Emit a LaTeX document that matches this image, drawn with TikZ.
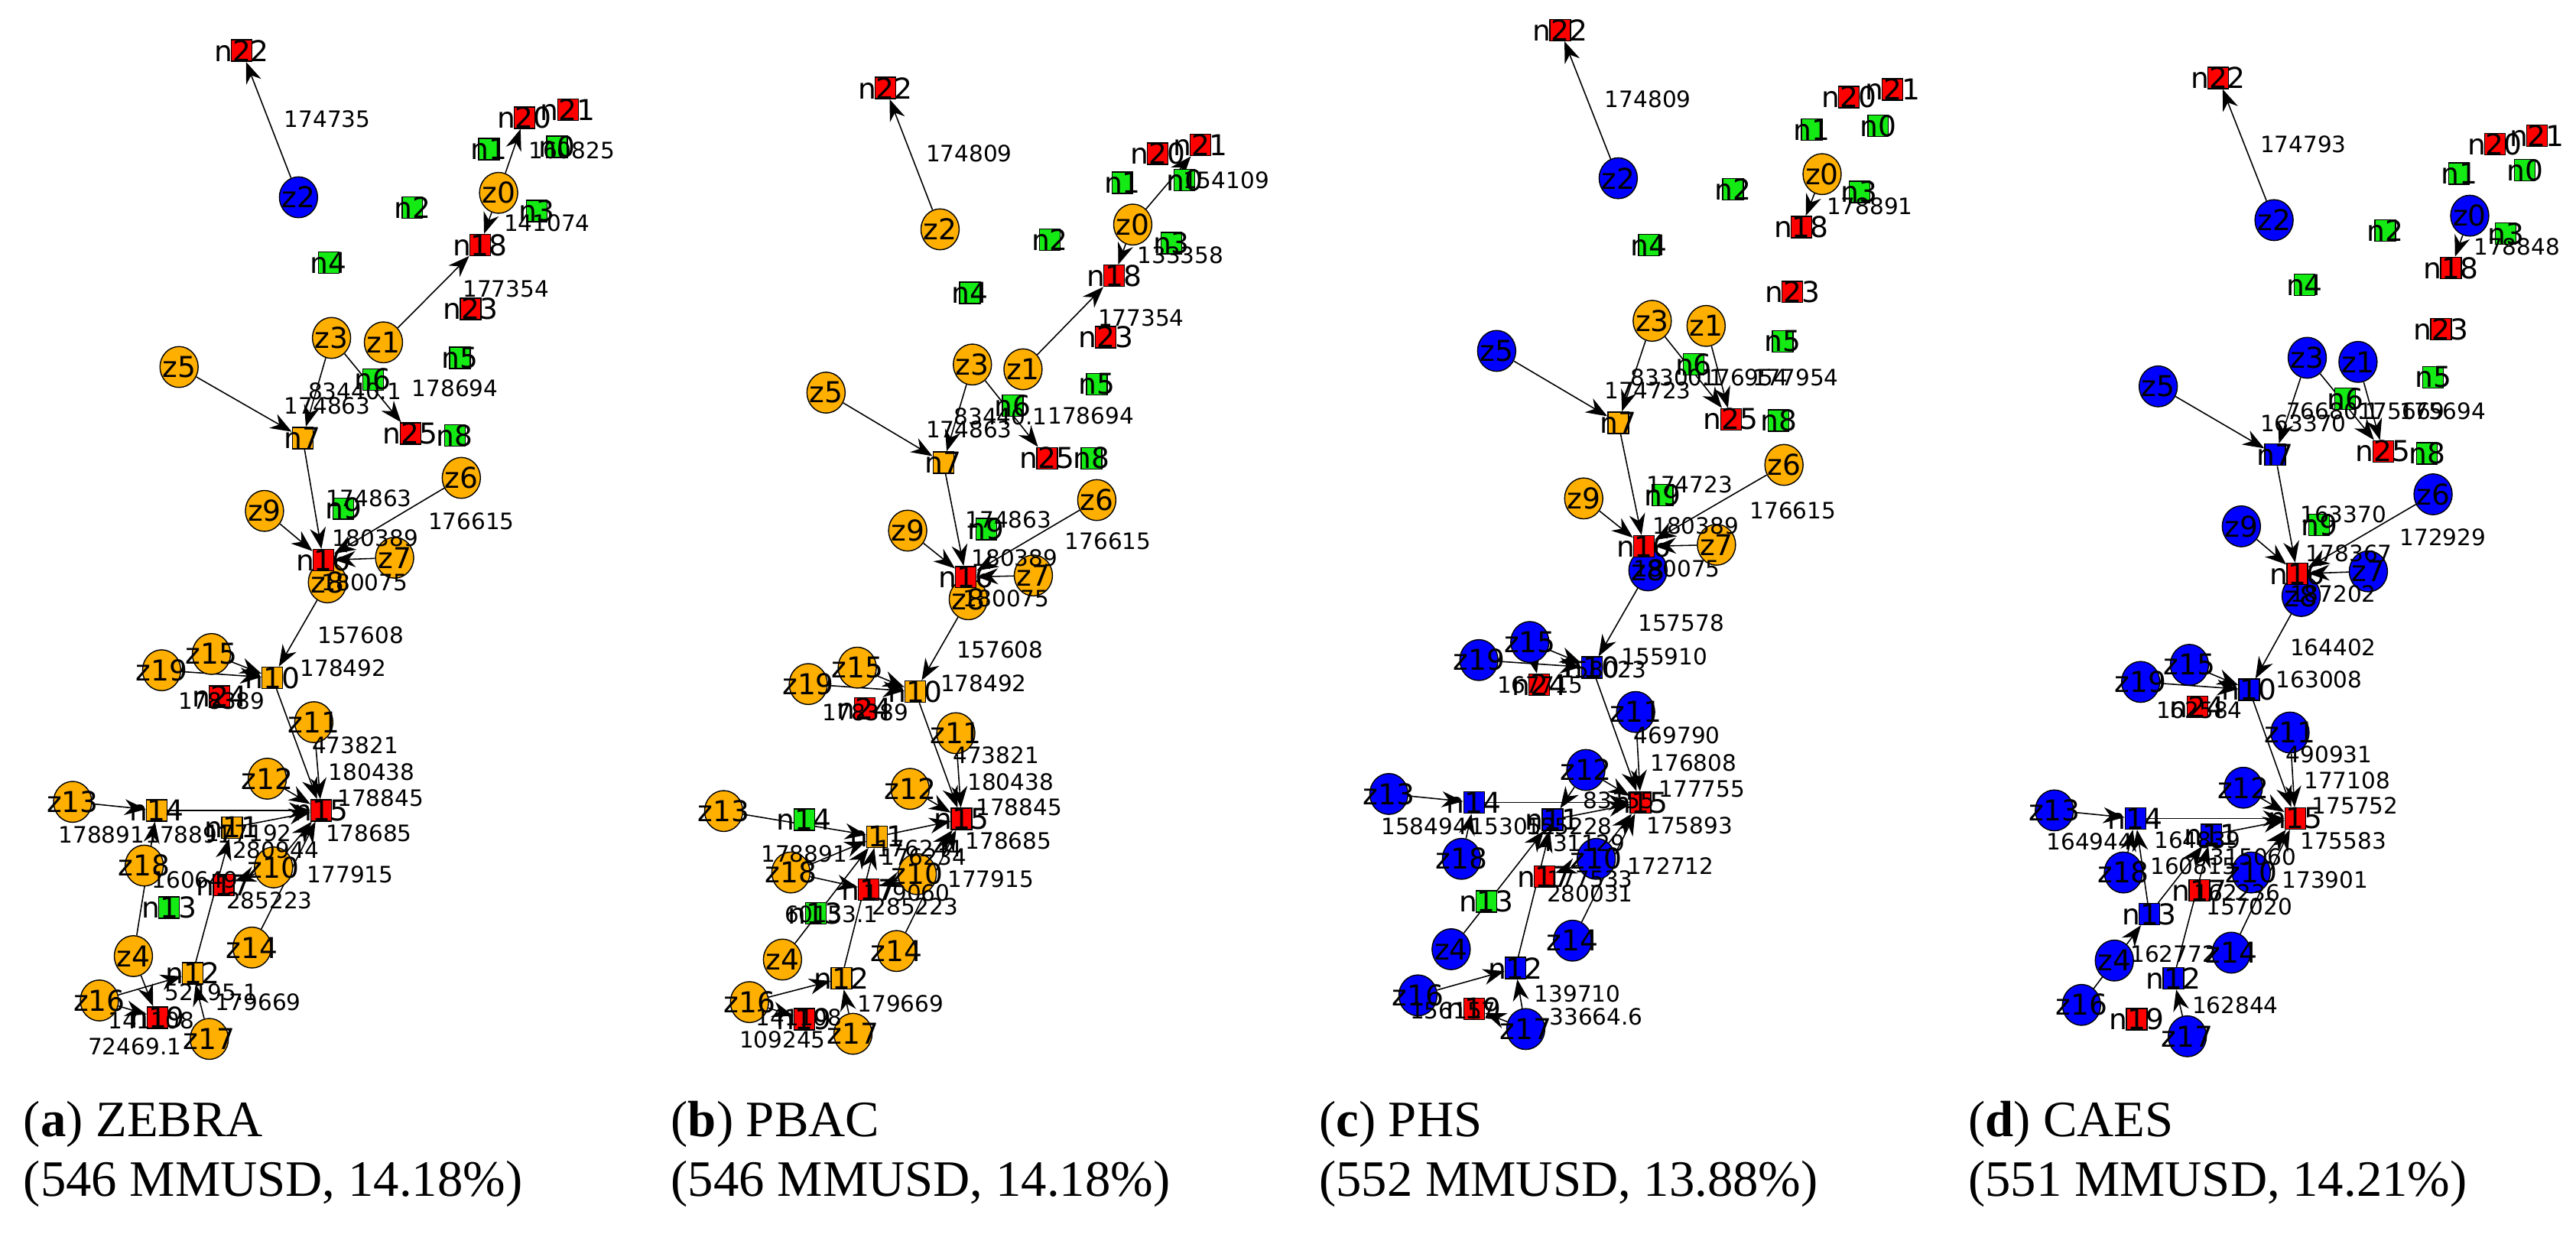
\documentclass[tikz,border=0pt]{standalone}
\usepackage{fontspec}
\newfontfamily\lblfont{DejaVu Sans}
\newfontfamily\capfont{Liberation Serif}
\usetikzlibrary{shapes.geometric,arrows.meta}
\pgfdeclarelayer{bg}
\pgfsetlayers{bg,main}
\definecolor{zorange}{RGB}{255,175,0}
\definecolor{zblue}{RGB}{0,0,255}
\definecolor{ngreen}{RGB}{20,235,20}
\definecolor{nred}{RGB}{255,0,0}

\begin{document}
\begin{tikzpicture}[x=0.0215cm, y=-0.0215cm,
  nlab/.style={font=\lblfont\fontsize{10.7}{12}\selectfont, inner sep=0pt},
  elab/.style={font=\lblfont\fontsize{8.4}{10}\selectfont, inner sep=0pt},
  captxt/.style={font=\capfont\fontsize{19}{22}\selectfont, inner sep=0pt, anchor=base west},
  cio/.style={ellipse, draw, line width=0.4pt, fill=zorange, minimum width=0.5cm, minimum height=0.535cm, inner sep=0pt, label={[nlab]center:#1}},
  cib/.style={cio=#1, fill=zblue},
  sq/.style={rectangle, draw, line width=0.4pt, minimum width=0.27cm, minimum height=0.28cm, inner sep=0pt, label={[nlab]center:#1}},
  sqg/.style={sq=#1, fill=ngreen},
  sqr/.style={sq=#1, fill=nred},
  sqo/.style={sq=#1, fill=zorange},
  sqb/.style={sq=#1, fill=zblue},
  link/.style={-{Stealth[length=2.8mm,width=2.1mm]}, line width=0.45pt}]
\useasboundingbox (0,0) rectangle (1568,757);

% panel (a)
\node[cio=z0] (az0) at (303.5,117.4) {};
\node[cio=z1] (az1) at (233.4,208.4) {};
\node[cib=z2] (az2) at (181.7,120.1) {};
\node[cio=z3] (az3) at (201.8,205.7) {};
\node[cio=z4] (az4) at (81.2,582) {};
\node[cio=z5] (az5) at (109,223.4) {};
\node[cio=z6] (az6) at (280.8,290.9) {};
\node[cio=z7] (az7) at (240.2,339.5) {};
\node[cio=z8] (az8) at (199.3,354.5) {};
\node[cio=z9] (az9) at (161,311) {};
\node[cio=z10] (az10) at (166.5,528) {};
\node[cio=z11] (az11) at (191,439.6) {};
\node[cio=z12] (az12) at (162.7,474) {};
\node[cio=z13] (az13) at (44.2,488.1) {};
\node[cio=z14] (az14) at (153.4,576.8) {};
\node[cio=z15] (az15) at (128.7,398.1) {};
\node[cio=z16] (az16) at (60.5,609) {};
\node[cio=z17] (az17) at (127.4,632.4) {};
\node[cio=z18] (az18) at (87.8,526.9) {};
\node[cio=z19] (az19) at (98.4,408) {};
\node[sqg=n0] (an0) at (339,89.4) {};
\node[sqg=n1] (an1) at (297.7,90.8) {};
\node[sqg=n2] (an2) at (251,126.3) {};
\node[sqg=n3] (an3) at (326.7,128.4) {};
\node[sqg=n4] (an4) at (200,160) {};
\node[sqg=n5] (an5) at (280,217.8) {};
\node[sqg=n6] (an6) at (227,231) {};
\node[sqo=n7] (an7) at (184.2,266.6) {};
\node[sqg=n8] (an8) at (276.8,265) {};
\node[sqg=n9] (an9) at (209,309.6) {};
\node[sqo=n10] (an10) at (165.8,412.6) {};
\node[sqo=n11] (an11) at (141.3,503.7) {};
\node[sqo=n12] (an12) at (117.3,592.4) {};
\node[sqg=n13] (an13) at (102.9,552.5) {};
\node[sqo=n14] (an14) at (95.4,493.3) {};
\node[sqr=n15] (an15) at (195.5,493.3) {};
\node[sqr=n16] (an16) at (196.8,341) {};
\node[sqr=n17] (an17) at (136.2,538.8) {};
\node[sqr=n18] (an18) at (292.2,149.2) {};
\node[sqr=n19] (an19) at (95.9,619.4) {};
\node[sqr=n20] (an20) at (319.2,71.7) {};
\node[sqr=n21] (an21) at (345.7,66.9) {};
\node[sqr=n22] (an22) at (147.1,30.8) {};
\node[sqr=n23] (an23) at (286.4,188) {};
\node[sqr=n24] (an24) at (133.7,424) {};
\node[sqr=n25] (an25) at (249.8,263.9) {};
\begin{pgfonlayer}{bg}
\foreach \s/\t in {z2/n22, z0/n20, z0/n18, z1/n18, z3/n7, z3/n25, z5/n7, n7/n16, z9/n16, z6/n16, z7/n16, z8/n10, z15/n10, z19/n10, n10/n15, z11/n15, z12/n15, z13/n14, n14/n15, n11/n15, z10/n15, z14/n15, z10/n17, n12/n11, z4/n14, z4/n19, z16/n12, z16/n19, z17/n12}
  \draw[link] (a\s) -- (a\t);
\end{pgfonlayer}
\node[elab] (al1) at (199.3,72.3) {174735};
\node[elab] (al2) at (348,91.4) {160825};
\node[elab] (al3) at (333,136) {141074};
\node[elab] (al4) at (308,175.6) {177354};
\node[elab] (al5) at (216,238) {83440.1};
\node[elab] (al6) at (277,236.5) {178694};
\node[elab] (al7) at (199.3,246.9) {174863};
\node[elab] (al8) at (224.5,303.4) {174863};
\node[elab] (al9) at (286.9,317.3) {176615};
\node[elab] (al10) at (228.3,327.4) {180389};
\node[elab] (al11) at (222,354.5) {180075};
\node[elab] (al12) at (219.5,386.7) {157608};
\node[elab] (al13) at (208.9,406.8) {178492};
\node[elab] (al14) at (135,426.5) {178389};
\node[elab] (al15) at (216.2,453.6) {473821};
\node[elab] (al16) at (226.3,469.8) {180438};
\node[elab] (al17) at (231.6,485.8) {178845};
\node[elab] (al18) at (224.5,507.2) {178685};
\node[elab] (al19) at (61.8,508.2) {178891};
\node[elab] (al20) at (114.8,508.2) {178891};
\node[elab] (al21) at (151.4,507.2) {177192};
\node[elab] (al22) at (167.8,517.6) {280944};
\node[elab] (al23) at (213.2,532.1) {177915};
\node[elab] (al24) at (118.6,535.7) {160649};
\node[elab] (al25) at (164,548.3) {285223};
\node[elab] (al26) at (128.7,603.8) {52195.1};
\node[elab] (al27) at (157,610) {179669};
\node[elab] (al28) at (92,621) {141108};
\node[elab] (al29) at (82,637) {72469.1};
\node[captxt] (acap1) at (14,692) {(\textbf{a}) ZEBRA};
\node[captxt] (acap2) at (14,728) {(546 MMUSD, 14.18\%)};

% panel (b)
\node[cio=z0] (bz0) at (689.5,136.7) {};
\node[cio=z1] (bz1) at (622.7,224.8) {};
\node[cio=z2] (bz2) at (572.2,139.6) {};
\node[cio=z3] (bz3) at (591.9,221.9) {};
\node[cio=z4] (bz4) at (476.3,584.1) {};
\node[cio=z5] (bz5) at (502.8,239) {};
\node[cio=z6] (bz6) at (667.6,304.4) {};
\node[cio=z7] (bz7) at (629,350.3) {};
\node[cio=z8] (bz8) at (589.4,364.8) {};
\node[cio=z9] (bz9) at (552.5,323) {};
\node[cio=z10] (bz10) at (558.3,532.1) {};
\node[cio=z11] (bz11) at (581.8,446.3) {};
\node[cio=z12] (bz12) at (554,480.2) {};
\node[cio=z13] (bz13) at (440.5,493.7) {};
\node[cio=z14] (bz14) at (545.7,578.9) {};
\node[cio=z15] (bz15) at (521.8,406.4) {};
\node[cio=z16] (bz16) at (456.2,610) {};
\node[cio=z17] (bz17) at (519.2,629.3) {};
\node[cio=z18] (bz18) at (481.4,531.1) {};
\node[cio=z19] (bz19) at (492,416.4) {};
\node[sqg=n0] (bn0) at (721,109.7) {};
\node[sqg=n1] (bn1) at (683.2,111.2) {};
\node[sqg=n2] (bn2) at (639,145.9) {};
\node[sqg=n3] (bn3) at (713,148) {};
\node[sqg=n4] (bn4) at (590.4,178.3) {};
\node[sqg=n5] (bn5) at (667.6,233.8) {};
\node[sqg=n6] (bn6) at (616.4,246.9) {};
\node[sqo=n7] (bn7) at (574.2,281.6) {};
\node[sqg=n8] (bn8) at (664.3,278.9) {};
\node[sqg=n9] (bn9) at (600.3,322) {};
\node[sqo=n10] (bn10) at (557.1,421) {};
\node[sqo=n11] (bn11) at (533.9,509.3) {};
\node[sqo=n12] (bn12) at (512.2,595.5) {};
\node[sqg=n13] (bn13) at (496.5,556) {};
\node[sqg=n14] (bn14) at (489.5,498.9) {};
\node[sqr=n15] (bn15) at (585.3,498.5) {};
\node[sqr=n16] (bn16) at (587.9,351.3) {};
\node[sqr=n17] (bn17) at (528.8,541.5) {};
\node[sqr=n18] (bn18) at (678.2,167.9) {};
\node[sqr=n19] (bn19) at (489.5,620.4) {};
\node[sqr=n20] (bn20) at (704.7,93.5) {};
\node[sqr=n21] (bn21) at (730.7,88.3) {};
\node[sqr=n22] (bn22) at (538.9,53.6) {};
\node[sqr=n23] (bn23) at (673.1,205.3) {};
\node[sqr=n24] (bn24) at (526.3,431.3) {};
\node[sqr=n25] (bn25) at (637.3,278.9) {};
\begin{pgfonlayer}{bg}
\foreach \s/\t in {z2/n22, z0/n21, z0/n18, z1/n18, z3/n7, z3/n25, z5/n7, n7/n16, z9/n16, z6/n16, z7/n16, z8/n10, z15/n10, z19/n10, n10/n15, z11/n15, z12/n15, z13/n11, n11/n15, z10/n15, z14/n15, z10/n17, z18/n11, z18/n17, z4/n11, n12/n11, z16/n12, z16/n19, z17/n12}
  \draw[link] (b\s) -- (b\t);
\end{pgfonlayer}
\node[elab] (bl1) at (589.9,93.5) {174809};
\node[elab] (bl2) at (746.3,109.7) {154109};
\node[elab] (bl3) at (718.6,155.4) {133358};
\node[elab] (bl4) at (694.6,193.3) {177354};
\node[elab] (bl5) at (609,253.5) {83440.1};
\node[elab] (bl6) at (664,253.1) {178694};
\node[elab] (bl7) at (589.9,261.4) {174863};
\node[elab] (bl8) at (613.8,316.5) {174863};
\node[elab] (bl9) at (674.4,329.5) {176615};
\node[elab] (bl10) at (617.6,339.5) {180389};
\node[elab] (bl11) at (612.6,364.4) {180075};
\node[elab] (bl12) at (608.8,395.6) {157608};
\node[elab] (bl13) at (598.7,415.8) {178492};
\node[elab] (bl14) at (526.8,433.8) {178389};
\node[elab] (bl15) at (606.3,459.8) {473821};
\node[elab] (bl16) at (615.1,476) {180438};
\node[elab] (bl17) at (620.2,491.6) {178845};
\node[elab] (bl18) at (613.8,512) {178685};
\node[elab] (bl19) at (489.5,519.7) {178891};
\node[elab] (bl20) at (559.6,516.5) {176244};
\node[elab] (bl21) at (562.1,521.7) {176234};
\node[elab] (bl22) at (603,535.2) {177915};
\node[elab] (bl23) at (552,543.6) {179060};
\node[elab] (bl24) at (557.1,551.9) {285223};
\node[elab] (bl25) at (506,556.5) {60153.1};
\node[elab] (bl26) at (548.2,611.1) {179669};
\node[elab] (bl27) at (486.4,619.2) {141108};
\node[elab] (bl28) at (476.3,632.9) {109245};
\node[captxt] (bcap1) at (408.2,692) {(\textbf{b}) PBAC};
\node[captxt] (bcap2) at (408.2,728) {(546 MMUSD, 14.18\%)};

% panel (c)
\node[cio=z0] (cz0) at (1109.1,106) {};
\node[cio=z1] (cz1) at (1038.5,198.4) {};
\node[cib=z2] (cz2) at (985,108.5) {};
\node[cio=z3] (cz3) at (1005.7,195.3) {};
\node[cib=z4] (cz4) at (883.3,577.8) {};
\node[cib=z5] (cz5) at (911,213.6) {};
\node[cio=z6] (cz6) at (1085.9,283) {};
\node[cio=z7] (cz7) at (1044.8,331.6) {};
\node[cib=z8] (cz8) at (1003.1,347.2) {};
\node[cio=z9] (cz9) at (964,303.4) {};
\node[cib=z10] (cz10) at (971.6,522.8) {};
\node[cib=z11] (cz11) at (995.6,433.4) {};
\node[cib=z12] (cz12) at (965.3,468.7) {};
\node[cib=z13] (cz13) at (845.4,483.3) {};
\node[cib=z14] (cz14) at (957.2,572.6) {};
\node[cib=z15] (cz15) at (931.2,390.8) {};
\node[cib=z16] (cz16) at (863.1,605.9) {};
\node[cib=z17] (cz17) at (928.7,626.4) {};
\node[cib=z18] (cz18) at (889.6,522.8) {};
\node[cib=z19] (cz19) at (900.2,401.8) {};
\node[sqg=n0] (cn0) at (1143.2,76.5) {};
\node[sqg=n1] (cn1) at (1102.8,79) {};
\node[sqg=n2] (cn2) at (1054.9,115.3) {};
\node[sqg=n3] (cn3) at (1131.8,116.8) {};
\node[sqg=n4] (cn4) at (1003.6,149.2) {};
\node[sqg=n5] (cn5) at (1085.1,207.8) {};
\node[sqg=n6] (cn6) at (1030.9,221.9) {};
\node[sqo=n7] (cn7) at (985,257.3) {};
\node[sqg=n8] (cn8) at (1082.6,256) {};
\node[sqg=n9] (cn9) at (1012,301.3) {};
\node[sqb=n10] (cn10) at (969.1,406.4) {};
\node[sqb=n11] (cn11) at (945.1,498.9) {};
\node[sqb=n12] (cn12) at (922.4,589.3) {};
\node[sqg=n13] (cn13) at (904.7,548.7) {};
\node[sqb=n14] (cn14) at (897.2,488.5) {};
\node[sqr=n15] (cn15) at (998.6,488.5) {};
\node[sqr=n16] (cn16) at (1000.6,332.6) {};
\node[sqr=n17] (cn17) at (940.1,533.6) {};
\node[sqr=n18] (cn18) at (1096.5,138.2) {};
\node[sqr=n19] (cn19) at (897.2,614) {};
\node[sqr=n20] (cn20) at (1125.5,59.2) {};
\node[sqr=n21] (cn21) at (1152,54.4) {};
\node[sqr=n22] (cn22) at (949.6,18.3) {};
\node[sqr=n23] (cn23) at (1091,177.7) {};
\node[sqr=n24] (cn24) at (937,416.8) {};
\node[sqr=n25] (cn25) at (1053.6,255.2) {};
\begin{pgfonlayer}{bg}
\foreach \s/\t in {z2/n22, z0/n18, z3/n7, z3/n25, z1/n25, z5/n7, n7/n16, z9/n16, z6/n16, z7/n16, z8/n10, z15/n10, z19/n10, z15/n24, n10/n15, z11/n15, z12/n15, z12/n11, z13/n14, n14/n15, n11/n15, z18/n14, z10/n15, z14/n15, z10/n17, z4/n11, n12/n11, z16/n12, z17/n12, z17/n19}
  \draw[link] (c\s) -- (c\t);
\end{pgfonlayer}
\node[elab] (cl1) at (1003.1,60.3) {174809};
\node[elab] (cl2) at (1138.1,125.7) {178891};
\node[elab] (cl3) at (1021,229.6) {83300.1};
\node[elab] (cl4) at (1062,229.6) {176954};
\node[elab] (cl5) at (1093,229.6) {177954};
\node[elab] (cl6) at (1003.1,237.9) {174723};
\node[elab] (cl7) at (1028.4,295.1) {174723};
\node[elab] (cl8) at (1091.4,310.7) {176615};
\node[elab] (cl9) at (1032.1,320.2) {180389};
\node[elab] (cl10) at (1020.8,346.1) {180075};
\node[elab] (cl11) at (1023.3,379.4) {157578};
\node[elab] (cl12) at (1013.2,399.8) {155910};
\node[elab] (cl13) at (976,407.4) {158023};
\node[elab] (cl14) at (937.5,417) {167715};
\node[elab] (cl15) at (1020.8,447.5) {469790};
\node[elab] (cl16) at (1030.9,464.2) {176808};
\node[elab] (cl17) at (1036,480.2) {177755};
\node[elab] (cl18) at (985.5,487) {83155};
\node[elab] (cl19) at (866.9,503) {158494};
\node[elab] (cl20) at (921.1,503) {153052};
\node[elab] (cl21) at (955.2,503) {155228};
\node[elab] (cl22) at (1028.4,502.4) {175893};
\node[elab] (cl23) at (962.8,513.4) {431129};
\node[elab] (cl24) at (1017,527) {172712};
\node[elab] (cl25) at (967.8,535.2) {177533};
\node[elab] (cl26) at (967.8,544) {280031};
\node[elab] (cl27) at (960.2,605) {139710};
\node[elab] (cl28) at (884.5,615) {156157};
\node[elab] (cl29) at (971.6,619) {33664.6};
\node[captxt] (ccap1) at (802.6,692) {(\textbf{c}) PHS};
\node[captxt] (ccap2) at (802.6,728) {(552 MMUSD, 13.88\%)};

% panel (d)
\node[cib=z0] (dz0) at (1503.3,131.3) {};
\node[cib=z1] (dz1) at (1435.3,220.3) {};
\node[cib=z2] (dz2) at (1384.2,134) {};
\node[cib=z3] (dz3) at (1404.4,217.8) {};
\node[cib=z4] (dz4) at (1287,584.7) {};
\node[cib=z5] (dz5) at (1313.7,235.2) {};
\node[cib=z6] (dz6) at (1481,300.9) {};
\node[cib=z7] (dz7) at (1441.6,347.8) {};
\node[cib=z8] (dz8) at (1400.7,362.8) {};
\node[cib=z9] (dz9) at (1364.3,320.4) {};
\node[cib=z10] (dz10) at (1370.3,531.1) {};
\node[cib=z11] (dz11) at (1393.9,445.9) {};
\node[cib=z12] (dz12) at (1365.5,479.5) {};
\node[cib=z13] (dz13) at (1250.5,493.3) {};
\node[cib=z14] (dz14) at (1358.2,579.9) {};
\node[cib=z15] (dz15) at (1332.7,404.7) {};
\node[cib=z16] (dz16) at (1267,611.7) {};
\node[cib=z17] (dz17) at (1331.4,630.8) {};
\node[cib=z18] (dz18) at (1292.5,531.1) {};
\node[cib=z19] (dz19) at (1303,415.1) {};
\node[sqg=n0] (dn0) at (1536.9,103.5) {};
\node[sqg=n1] (dn1) at (1496.8,105.6) {};
\node[sqg=n2] (dn2) at (1451.8,140.3) {};
\node[sqg=n3] (dn3) at (1525.2,142.3) {};
\node[sqg=n4] (dn4) at (1402.7,173.5) {};
\node[sqg=n5] (dn5) at (1481,229.6) {};
\node[sqg=n6] (dn6) at (1427.5,242.7) {};
\node[sqb=n7] (dn7) at (1384.9,276.8) {};
\node[sqg=n8] (dn8) at (1477.3,276) {};
\node[sqg=n9] (dn9) at (1411.7,319.6) {};
\node[sqb=n10] (dn10) at (1369.1,419.9) {};
\node[sqb=n11] (dn11) at (1346,508.2) {};
\node[sqb=n12] (dn12) at (1323,595.5) {};
\node[sqb=n13] (dn13) at (1308.3,556.4) {};
\node[sqb=n14] (dn14) at (1299.8,498.2) {};
\node[sqr=n15] (dn15) at (1397.1,498.2) {};
\node[sqr=n16] (dn16) at (1398.3,349.3) {};
\node[sqr=n17] (dn17) at (1338.7,541.9) {};
\node[sqr=n18] (dn18) at (1491.9,163.1) {};
\node[sqr=n19] (dn19) at (1300.6,620.4) {};
\node[sqr=n20] (dn20) at (1518.6,87.7) {};
\node[sqr=n21] (dn21) at (1544.2,82.7) {};
\node[sqr=n22] (dn22) at (1350.2,47.4) {};
\node[sqr=n23] (dn23) at (1485.8,200.5) {};
\node[sqr=n24] (dn24) at (1337.5,430.3) {};
\node[sqr=n25] (dn25) at (1450.6,274.7) {};
\begin{pgfonlayer}{bg}
\foreach \s/\t in {z2/n22, z0/n18, z3/n7, z3/n25, z1/n25, z5/n7, n7/n16, z9/n16, z6/n16, z7/n16, z8/n10, z15/n10, z19/n10, n10/n15, z11/n15, z12/n15, z13/n14, n14/n15, n11/n15, z18/n14, n13/n14, n13/n11, n12/n11, z10/n15, z14/n15, z16/n13, z17/n12}
  \draw[link] (d\s) -- (d\t);
\end{pgfonlayer}
\node[elab] (dl1) at (1402,87.7) {174793};
\node[elab] (dl2) at (1532,150) {178848};
\node[elab] (dl3) at (1420,250.4) {76680.1};
\node[elab] (dl4) at (1462,250.4) {175669};
\node[elab] (dl5) at (1487,250.4) {175694};
\node[elab] (dl6) at (1402,257.7) {163370};
\node[elab] (dl7) at (1426.3,312.9) {163370};
\node[elab] (dl8) at (1487,327) {172929};
\node[elab] (dl9) at (1429.9,336.8) {178367};
\node[elab] (dl10) at (1420.2,361.7) {187202};
\node[elab] (dl11) at (1420.2,393.9) {164402};
\node[elab] (dl12) at (1411.7,413.7) {163008};
\node[elab] (dl13) at (1338.7,432.4) {162584};
\node[elab] (dl14) at (1417.7,459.4) {490931};
\node[elab] (dl15) at (1428.7,475) {177108};
\node[elab] (dl16) at (1433.5,490.6) {175752};
\node[elab] (dl17) at (1271.9,512.4) {164944};
\node[elab] (dl18) at (1337.5,511.3) {164839};
\node[elab] (dl19) at (1426.3,512) {175583};
\node[elab] (dl20) at (1371.6,521.7) {315060};
\node[elab] (dl21) at (1335.1,527) {160815};
\node[elab] (dl22) at (1415.3,535.7) {173901};
\node[elab] (dl23) at (1361.8,543.5) {162236};
\node[elab] (dl24) at (1369.1,551.9) {157020};
\node[elab] (dl25) at (1323,580.9) {162772};
\node[elab] (dl26) at (1360.6,612.1) {162844};
\node[captxt] (dcap1) at (1197.7,692) {(\textbf{d}) CAES};
\node[captxt] (dcap2) at (1197.7,728) {(551 MMUSD, 14.21\%)};
\end{tikzpicture}
\end{document}
